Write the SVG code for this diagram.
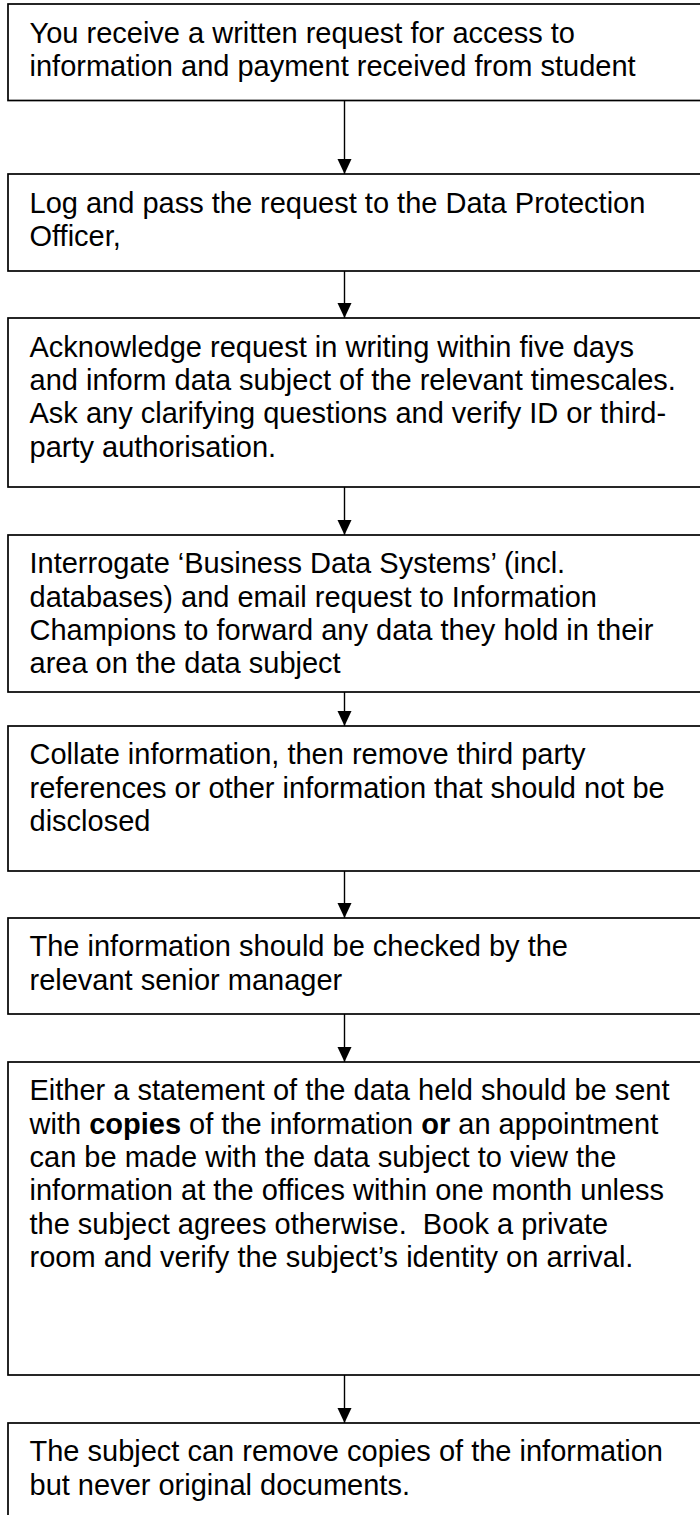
<svg xmlns="http://www.w3.org/2000/svg" width="700" height="1515" viewBox="0 0 700 1515">
  <defs>
    <marker id="arrow" markerUnits="userSpaceOnUse" markerWidth="16" markerHeight="16" refX="15" refY="7" orient="auto">
      <path d="M0,0 L15,7 L0,14 z" fill="#000"/>
    </marker>
    <style>
      .box { fill: #fff; stroke: #000; stroke-width: 1.7; }
      .t { font-family: "Liberation Sans", Arial, sans-serif; font-size: 29px; fill: #000; white-space: pre; }
      .conn { stroke: #000; stroke-width: 1.4; fill: none; marker-end: url(#arrow); }
    </style>
  </defs>
  <rect width="700" height="1515" fill="#fff"/>

  <g id="connectors">
    <line class="conn" x1="344.5" y1="100.5" x2="344.5" y2="174"/>
    <line class="conn" x1="344.5" y1="271" x2="344.5" y2="318"/>
    <line class="conn" x1="344.5" y1="487" x2="344.5" y2="535"/>
    <line class="conn" x1="344.5" y1="684" x2="344.5" y2="726"/>
    <line class="conn" x1="344.5" y1="871" x2="344.5" y2="918"/>
    <line class="conn" x1="344.5" y1="1014" x2="344.5" y2="1062"/>
    <line class="conn" x1="344.5" y1="1375" x2="344.5" y2="1423"/>
  </g>

  <g id="node1">
    <rect class="box" x="8" y="4" width="710" height="96.5"/>
    <text class="t" x="29.5" y="42.5">You receive a written request for access to</text>
    <text class="t" x="29.5" y="75.8">information and payment received from student</text>
  </g>

  <g id="node2">
    <rect class="box" x="8" y="174" width="710" height="97"/>
    <text class="t" x="29.5" y="212.5">Log and pass the request to the Data Protection</text>
    <text class="t" x="29.5" y="245.8">Officer,</text>
  </g>

  <g id="node3">
    <rect class="box" x="8" y="318" width="710" height="169"/>
    <text class="t" x="29.5" y="356.5">Acknowledge request in writing within five days</text>
    <text class="t" x="29.5" y="390">and inform data subject of the relevant timescales.</text>
    <text class="t" x="29.5" y="423">Ask any clarifying questions and verify ID or third-</text>
    <text class="t" x="29.5" y="456.5">party authorisation.</text>
  </g>

  <g id="node4">
    <rect class="box" x="8" y="535" width="710" height="157"/>
    <text class="t" x="29.5" y="573">Interrogate ‘Business Data Systems’ (incl.</text>
    <text class="t" x="29.5" y="607">databases) and email request to Information</text>
    <text class="t" x="29.5" y="640">Champions to forward any data they hold in their</text>
    <text class="t" x="29.5" y="673">area on the data subject</text>
  </g>

  <g id="node5">
    <rect class="box" x="8" y="726" width="710" height="145"/>
    <text class="t" x="29.5" y="764">Collate information, then remove third party</text>
    <text class="t" x="29.5" y="798">references or other information that should not be</text>
    <text class="t" x="29.5" y="831">disclosed</text>
  </g>

  <g id="node6">
    <rect class="box" x="8" y="918" width="710" height="96"/>
    <text class="t" x="29.5" y="956">The information should be checked by the</text>
    <text class="t" x="29.5" y="990">relevant senior manager</text>
  </g>

  <g id="node7">
    <rect class="box" x="8" y="1062" width="710" height="313"/>
    <text class="t" x="29.5" y="1100">Either a statement of the data held should be sent</text>
    <text class="t" x="29.5" y="1134">with <tspan font-weight="bold">copies</tspan> of the information <tspan font-weight="bold">or</tspan> an appointment</text>
    <text class="t" x="29.5" y="1167">can be made with the data subject to view the</text>
    <text class="t" x="29.5" y="1200">information at the offices within one month unless</text>
    <text class="t" x="29.5" y="1234" xml:space="preserve">the subject agrees otherwise.  Book a private</text>
    <text class="t" x="29.5" y="1267">room and verify the subject’s identity on arrival.</text>
  </g>

  <g id="node8">
    <rect class="box" x="8" y="1423" width="710" height="120"/>
    <text class="t" x="29.5" y="1461">The subject can remove copies of the information</text>
    <text class="t" x="29.5" y="1495">but never original documents.</text>
  </g>
</svg>
